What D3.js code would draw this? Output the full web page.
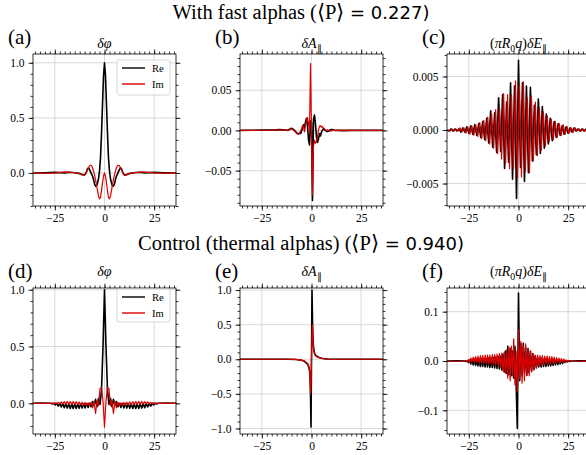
<!DOCTYPE html>
<html>
<head>
<meta charset="utf-8">
<script src="https://cdn.jsdelivr.net/npm/d3@7"></script>
<style>
  body { margin: 0; background: #fff; }
  svg { display: block; }
</style>
</head>
<body>
<div id="container"></div>
<script>
/* CONSTANTS AND GLOBALS */
const width = 586,
  height = 455,
  panelWidth = 143,
  colLeft = [33, 240, 447],
  rowTop = [54, 288],
  rowHeight = [152, 146],
  titleBase = [48, 276],
  xDomain = [-36, 36],
  xTicks = [-25, 0, 25],
  xMinorStep = 2.5,
  serif = '"Liberation Serif", cursive',
  sans = '"DejaVu Sans", cursive',
  reColor = '#000000',
  imColor = '#dd0000',
  gridColor = '#d4d4d4'

/* DATA */
// (a) delta phi, fast alphas
const phiFastX = [-36, -30, -25, -22, -20, -18, -16, -14, -13]
  .concat(d3.range(0, 49).map(k => -12 + 0.5 * k))
  .concat([13, 14, 16, 18, 20, 22, 25, 30, 36])
const phiFastRe = [
  0, 0.002, 0.005, 0.003, 0.0, 0.006, 0.004, 0.0, -0.004,
  -0.008, -0.012, -0.015, -0.02, -0.015, -0.005, 0.015,
  0.04, 0.045, 0.03, 0.01, -0.01, -0.03, -0.06,
  -0.1, -0.12, -0.115, -0.09, -0.05, 0.02, 0.14,
  0.36, 0.62, 0.88, 1.0, 0.88, 0.62, 0.36,
  0.14, 0.02, -0.05, -0.09, -0.115, -0.12, -0.1,
  -0.06, -0.03, -0.01, 0.01, 0.03, 0.045, 0.04,
  0.015, -0.005, -0.015, -0.02, -0.015, -0.012, -0.008,
  -0.004, 0.0, 0.004, 0.006, 0.0, 0.003, 0.005, 0.002, 0
]
const phiFastIm = [
  0, -0.003, 0.0, 0.005, 0.01, 0.008, 0.004, 0.0, -0.005,
  -0.01, -0.015, -0.02, -0.022, -0.02, -0.01, 0.01,
  0.03, 0.05, 0.065, 0.07, 0.065, 0.045, 0.015,
  -0.02, -0.06, -0.11, -0.16, -0.21, -0.235, -0.22,
  -0.16, -0.09, -0.03, 0.0, -0.03, -0.09, -0.16,
  -0.22, -0.235, -0.21, -0.16, -0.11, -0.06, -0.02,
  0.015, 0.045, 0.065, 0.07, 0.065, 0.05, 0.03,
  0.01, -0.01, -0.02, -0.022, -0.02, -0.015, -0.01,
  -0.005, 0.0, 0.004, 0.008, 0.01, 0.005, 0.0, -0.003, 0
]

// (b) delta A_par, fast alphas
const aparFastX = [-36, -30, -25, -20, -16, -13]
  .concat(d3.range(0, 49).map(k => -12 + 0.5 * k))
  .concat([13, 16, 20, 25, 30, 36])
const aparFastRe = [
  0, 0.0002, 0.0003, 0.0005, 0.001, 0.0005,
  0.0, 0.0008, 0.0015, 0.0022, 0.0025, 0.002, 0.001,
  0.0, -0.0015, -0.003, -0.004, -0.0045, -0.003, -0.004,
  -0.001, 0.003, 0.007, 0.003, 0.011, 0.015, 0.006,
  -0.012, -0.018, 0.012, 0.01, -0.087, 0.014, 0.019,
  0.008, -0.008, -0.015, -0.011, -0.004, -0.007, -0.002,
  0.0, 0.002, 0.001, 0.0, -0.001, -0.0015, -0.001,
  0.0, 0.0008, 0.0012, 0.001, 0.0005, 0.0002, 0.0,
  0.0, -0.0003, 0.0, 0.0002, 0.0, 0
]
const aparFastIm = [
  0, 0.0, 0.0002, 0.0005, 0.0008, 0.0004,
  0.0, 0.0005, 0.001, 0.0015, 0.0018, 0.0012, 0.0,
  -0.001, -0.0025, -0.004, -0.0045, -0.004, -0.003, -0.001,
  0.002, 0.006, 0.004, -0.002, 0.006, 0.013, 0.016,
  0.009, 0.0, 0.083, 0.0, -0.08, -0.02, -0.012,
  -0.016, -0.014, -0.008, 0.0, 0.005, 0.006, 0.004,
  0.005, 0.003, 0.002, 0.001, 0.0, 0.0008, 0.0,
  -0.0005, -0.001, -0.0008, 0.0, 0.0003, 0.0, 0.0,
  0.0, 0.0003, 0.0, 0.0001, 0.0, 0
]

// (c) (pi R0 q) delta E_par, fast alphas
const eparFastXRe = d3.range(-36, 37, 1)
const eparFastXIm = d3.range(0, 72).map(k => -35.5 + k)
const eparFastRe = [
  0.0000, -0.0001, 0.0001, -0.0001, 0.0001, -0.0001, 0.0001, -0.0002, 0.0002, -0.0002,
  0.0003, -0.0003, 0.0004, -0.0004, 0.0005, -0.0005, 0.0006, -0.0007, 0.0008, -0.0009,
  0.0011, -0.0012, 0.0018, -0.0016, 0.0016, -0.0021, 0.0030, -0.0020, 0.0033, -0.0036,
  0.0026, -0.0030, 0.0044, -0.0046, 0.0041, -0.0064, 0.0065, -0.0035, 0.0044, -0.0048,
  0.0041, -0.0040, 0.0040, -0.0029, 0.0023, -0.0023, 0.0029, -0.0022, 0.0022, -0.0017,
  0.0015, -0.0013, 0.0011, -0.0010, 0.0008, -0.0007, 0.0006, -0.0005, 0.0004, -0.0004,
  0.0003, -0.0003, 0.0002, -0.0002, 0.0002, -0.0001, 0.0001, -0.0001, 0.0001, -0.0001,
  0.0001, -0.0001, 0.0000
]
const eparFastIm = [
  0.0000, -0.0001, 0.0001, -0.0001, 0.0001, -0.0001, 0.0002, -0.0002, 0.0002, -0.0003,
  0.0003, -0.0004, 0.0004, -0.0005, 0.0005, -0.0006, 0.0007, -0.0008, 0.0009, -0.0010,
  0.0012, -0.0013, 0.0015, -0.0017, 0.0019, -0.0022, 0.0020, -0.0027, 0.0034, -0.0031,
  0.0033, -0.0036, 0.0033, -0.0036, 0.0046, -0.0045, 0.0042, -0.0044, 0.0045, -0.0039,
  0.0030, -0.0040, 0.0032, -0.0029, 0.0026, -0.0024, 0.0021, -0.0019, 0.0017, -0.0015,
  0.0013, -0.0011, 0.0010, -0.0009, 0.0008, -0.0007, 0.0006, -0.0005, 0.0005, -0.0004,
  0.0003, -0.0003, 0.0002, -0.0002, 0.0002, -0.0001, 0.0001, -0.0001, 0.0001, -0.0001,
  0.0001, 0.0000
]

// (d) delta phi, thermal alphas
const phiCtrlX = [-36, -31.5]
  .concat(d3.range(0, 73).map(k => -27 + 0.75 * k))
  .concat([31.5, 36])
const phiCtrlRe = [
  0, 0.002,
  0.0, -0.006, 0.0, -0.015, 0.0, -0.024, -0.002, -0.032, -0.003, -0.038,
  -0.005, -0.042, -0.006, -0.045, -0.006, -0.046, -0.006, -0.045, -0.005, -0.044,
  -0.004, -0.042, -0.003, -0.04, -0.002, -0.036, 0.0, -0.03, 0.015, -0.02,
  0.035, -0.03, 0.045, -0.01, 0.12, 0.5,
  1.0,
  0.5, 0.12, -0.01, 0.045, -0.03, 0.035,
  -0.02, 0.015, -0.03, 0.0, -0.036, -0.002, -0.04, -0.003, -0.042, -0.004,
  -0.044, -0.005, -0.045, -0.006, -0.046, -0.006, -0.045, -0.006, -0.042, -0.005,
  -0.038, -0.003, -0.032, -0.002, -0.024, 0.0, -0.015, 0.0, -0.006, 0.0,
  0.002, 0
]
const phiCtrlIm = [
  0, -0.001,
  0.0, 0.002, -0.002, 0.004, -0.003, 0.008, -0.004, 0.012, -0.004, 0.015,
  -0.005, 0.016, -0.005, 0.016, -0.006, 0.015, -0.008, 0.014, -0.01, 0.012,
  -0.012, 0.01, -0.015, 0.008, -0.018, 0.005, -0.02, 0.01, -0.04, 0.02,
  -0.09, 0.02, -0.02, 0.13, 0.14, 0.02,
  -0.21,
  0.02, 0.14, 0.13, -0.02, 0.02, -0.09,
  0.02, -0.04, 0.01, -0.02, 0.005, -0.018, 0.008, -0.015, 0.01, -0.012,
  0.012, -0.01, 0.014, -0.008, 0.015, -0.006, 0.016, -0.005, 0.016, -0.005,
  0.015, -0.004, 0.012, -0.004, 0.008, -0.003, 0.004, -0.002, 0.002, 0.0,
  -0.001, 0
]

// (e) delta A_par, thermal alphas
const aparCtrlX = [-36, -20, -12, -8, -6, -5, -4, -3.5, -3, -2.5, -2, -1.5, -1, -0.75, -0.5, -0.25,
  0, 0.25, 0.5, 0.75, 1, 1.5, 2, 2.5, 3, 3.5, 4, 5, 6, 8, 12, 20, 36]
const aparCtrlRe = [0, 0, 0, -0.003, -0.01, -0.015, -0.025, -0.03, -0.045, -0.055, -0.07, -0.1, -0.16, -0.25, -0.5, -0.98,
  0.0, 1.0, 0.55, 0.3, 0.18, 0.09, 0.06, 0.05, 0.04, 0.03, 0.025, 0.015, 0.01, 0.004, 0, 0, 0]
const aparCtrlIm = [0, 0, 0, -0.002, -0.008, -0.012, -0.02, -0.025, -0.035, -0.045, -0.06, -0.09, -0.14, -0.25, -0.5, -0.35,
  0.0, 0.35, 0.5, 0.25, 0.14, 0.08, 0.05, 0.04, 0.03, 0.025, 0.02, 0.012, 0.008, 0.003, 0, 0, 0]

// (f) (pi R0 q) delta E_par, thermal alphas
const eparCtrlX = [-36, -31]
  .concat(d3.range(0, 91).map(k => -27 + 0.6 * k))
  .concat([31, 36])
const eparCtrlRe = [
  0, 0.0005,
  0.0, -0.001, 0.001, -0.003, 0.002, -0.006, 0.003, -0.008, 0.004, -0.009,
  0.004, -0.01, 0.004, -0.011, 0.005, -0.011, 0.005, -0.012, 0.005, -0.012,
  0.006, -0.013, 0.006, -0.013, 0.007, -0.014, 0.008, -0.015, 0.009, -0.016,
  0.01, -0.018, 0.014, -0.022, 0.02, -0.025, 0.03, -0.028, 0.025, -0.03,
  0.02, -0.035, 0.03, -0.045, -0.137,
  0.138,
  -0.04, 0.035, -0.03, 0.036, -0.025, 0.028, -0.029, 0.025, -0.024, 0.02,
  -0.02, 0.015, -0.017, 0.01, -0.014, 0.008, -0.012, 0.007, -0.012, 0.006,
  -0.011, 0.006, -0.011, 0.005, -0.01, 0.005, -0.01, 0.004, -0.009, 0.004,
  -0.008, 0.003, -0.007, 0.003, -0.006, 0.002, -0.005, 0.002, -0.003, 0.001,
  -0.002, 0.001, -0.001, 0.0, 0.0,
  0.0005, 0
]
const eparCtrlIm = [
  0, -0.0005,
  0.0, 0.001, -0.001, 0.003, -0.002, 0.006, -0.002, 0.008, -0.003, 0.009,
  -0.003, 0.01, -0.004, 0.011, -0.004, 0.011, -0.005, 0.012, -0.005, 0.012,
  -0.006, 0.012, -0.006, 0.013, -0.007, 0.013, -0.008, 0.014, -0.01, 0.015,
  -0.012, 0.016, -0.02, 0.018, -0.025, 0.022, -0.035, 0.028, -0.04, 0.03,
  -0.03, 0.045, -0.048, 0.02, -0.063,
  0.063,
  -0.035, 0.04, -0.045, 0.03, -0.04, 0.035, -0.03, 0.025, -0.03, 0.02,
  -0.022, 0.015, -0.018, 0.012, -0.013, 0.012, -0.01, 0.011, -0.008, 0.011,
  -0.007, 0.01, -0.006, 0.01, -0.006, 0.009, -0.005, 0.009, -0.005, 0.008,
  -0.004, 0.007, -0.004, 0.006, -0.003, 0.005, -0.002, 0.004, -0.002, 0.002,
  -0.001, 0.001, 0.0, 0.0, 0.0,
  -0.0005, 0
]

/* TITLES */
const titlePhi = [{ t: 'δφ', it: true }]
const titleApar = [{ t: 'δA', it: true }, { t: '∥', sub: true }]
const titleEpar = [{ t: '(' }, { t: 'πR', it: true }, { t: '0', sub: true }, { t: 'q', it: true },
  { t: ')' }, { t: 'δE', it: true }, { t: '∥', sub: true }]

const panels = [
  { label: '(a)', col: 0, row: 0, title: titlePhi, yDomain: [-0.30, 1.08], yTicks: [0, 0.5, 1], yMinor: 0.1, yFormat: '.1f',
    xRe: phiFastX, xIm: phiFastX, re: phiFastRe, im: phiFastIm, legend: { dy: 6, h: 35 } },
  { label: '(b)', col: 1, row: 0, title: titleApar, yDomain: [-0.094, 0.095], yTicks: [-0.05, 0, 0.05], yMinor: 0.01, yFormat: '.2f',
    xRe: aparFastX, xIm: aparFastX, re: aparFastRe, im: aparFastIm },
  { label: '(c)', col: 2, row: 0, title: titleEpar, yDomain: [-0.0071, 0.0071], yTicks: [-0.005, 0, 0.005], yMinor: 0.001, yFormat: '.3f',
    xRe: eparFastXRe, xIm: eparFastXIm, re: eparFastRe, im: eparFastIm },
  { label: '(d)', col: 0, row: 1, title: titlePhi, yDomain: [-0.27, 1.015], yTicks: [0, 0.5, 1], yMinor: 0.1, yFormat: '.1f',
    xRe: phiCtrlX, xIm: phiCtrlX, re: phiCtrlRe, im: phiCtrlIm, legend: { dy: 1, h: 33 } },
  { label: '(e)', col: 1, row: 1, title: titleApar, yDomain: [-1.08, 1.03], yTicks: [-1, -0.5, 0, 0.5, 1], yMinor: 0.1, yFormat: '.1f',
    xRe: aparCtrlX, xIm: aparCtrlX, re: aparCtrlRe, im: aparCtrlIm },
  { label: '(f)', col: 2, row: 1, title: titleEpar, yDomain: [-0.148, 0.148], yTicks: [-0.1, 0, 0.1], yMinor: 0.02, yFormat: '.1f',
    xRe: eparCtrlX, xIm: eparCtrlX, re: eparCtrlRe, im: eparCtrlIm }
]

/* CREATE SVG ELEMENT */
const svg = d3.select('#container')
  .append('svg')
  .attr('width', width)
  .attr('height', height)

svg.append('rect').attr('width', width).attr('height', height).attr('fill', '#fff')

// row titles
function rowTitle(y, lead, value) {
  const t = svg.append('text')
    .attr('x', 301)
    .attr('y', y)
    .attr('text-anchor', 'middle')
    .style('font-family', serif)
    .style('font-size', '20.5px')
  t.append('tspan').text(lead)
  t.append('tspan').style('font-family', sans).style('font-size', '18px').text(value)
}
rowTitle(19, 'With fast alphas (⟨P⟩', ' = 0.227)')
rowTitle(250, 'Control (thermal alphas) (⟨P⟩', ' = 0.940)')

function mathText(sel, parts, size) {
  let shifted = false
  parts.forEach(p => {
    const t = sel.append('tspan').text(p.t)
    if (p.it) t.style('font-style', 'italic')
    if (p.sub) {
      t.style('font-size', (size * 0.7) + 'px')
      if (!shifted) t.attr('dy', size * 0.28)
      shifted = true
    } else if (shifted) {
      t.attr('dy', -size * 0.28)
      shifted = false
    }
  })
}

function minorValues(domain, step) {
  const k0 = Math.ceil(domain[0] / step - 1e-9),
    k1 = Math.floor(domain[1] / step + 1e-9)
  return d3.range(k0, k1 + 1).map(k => +(k * step).toFixed(6))
}

panels.forEach((p, i) => {
  const left = colLeft[p.col],
    top = rowTop[p.row],
    h = rowHeight[p.row],
    w = panelWidth

  const xScale = d3.scaleLinear().domain(xDomain).range([0, w])
  const yScale = d3.scaleLinear().domain(p.yDomain).range([h, 0])

  const g = svg.append('g').attr('transform', `translate(${left}, ${top})`)

  // + GRID
  g.append('g').selectAll('line')
    .data(xTicks)
    .join('line')
    .attr('x1', d => xScale(d)).attr('x2', d => xScale(d))
    .attr('y1', 0).attr('y2', h)
    .attr('stroke', gridColor).attr('stroke-width', 0.9)
  g.append('g').selectAll('line')
    .data(p.yTicks)
    .join('line')
    .attr('x1', 0).attr('x2', w)
    .attr('y1', d => yScale(d)).attr('y2', d => yScale(d))
    .attr('stroke', gridColor).attr('stroke-width', 0.9)

  // + CURVES
  g.append('clipPath').attr('id', 'clip' + i)
    .append('rect').attr('width', w).attr('height', h)

  const line = d3.line().x(d => xScale(d[0])).y(d => yScale(d[1]))
  const curves = g.append('g').attr('clip-path', `url(#clip${i})`)
  curves.append('path')
    .attr('d', line(d3.zip(p.xRe, p.re)))
    .attr('fill', 'none').attr('stroke', reColor).attr('stroke-width', 1.6)
    .attr('stroke-linejoin', 'round')
  curves.append('path')
    .attr('d', line(d3.zip(p.xIm, p.im)))
    .attr('fill', 'none').attr('stroke', imColor).attr('stroke-width', 1.2)
    .attr('stroke-linejoin', 'round')

  // + AXES
  const xMinor = minorValues(xDomain, xMinorStep)
  const yMinor = minorValues(p.yDomain, p.yMinor)
  const axes = [
    d3.axisBottom(xScale).tickValues(xTicks).tickSize(4.5).tickPadding(3).tickFormat(d3.format('d')),
    d3.axisBottom(xScale).tickValues(xMinor).tickSize(2.5).tickFormat(''),
    d3.axisTop(xScale).tickValues(xTicks).tickSize(4.5).tickFormat(''),
    d3.axisTop(xScale).tickValues(xMinor).tickSize(2.5).tickFormat(''),
    d3.axisLeft(yScale).tickValues(p.yTicks).tickSize(4.5).tickPadding(4).tickFormat(d3.format(p.yFormat)),
    d3.axisLeft(yScale).tickValues(yMinor).tickSize(2.5).tickFormat(''),
    d3.axisRight(yScale).tickValues(p.yTicks).tickSize(4.5).tickFormat(''),
    d3.axisRight(yScale).tickValues(yMinor).tickSize(2.5).tickFormat('')
  ]
  axes.forEach((ax, j) => {
    const pos = j < 2 ? `translate(0, ${h})` : (j >= 6 ? `translate(${w}, 0)` : null)
    g.append('g')
      .attr('transform', pos)
      .call(ax.tickSizeOuter(0))
      .call(a => a.select('.domain').remove())
      .call(a => a.selectAll('.tick line').attr('stroke', '#000').attr('stroke-width', 0.8))
      .call(a => a.selectAll('.tick text').style('font-family', serif).style('font-size', '11.5px'))
  })

  // frame
  g.append('rect')
    .attr('width', w).attr('height', h)
    .attr('fill', 'none').attr('stroke', '#000').attr('stroke-width', 0.8)

  // + TITLE AND PANEL LABEL
  const title = g.append('text')
    .attr('x', w / 2)
    .attr('y', titleBase[p.row] - top)
    .attr('text-anchor', 'middle')
    .style('font-family', serif)
    .style('font-size', '14px')
  mathText(title, p.title, 14)

  g.append('text')
    .attr('x', -25)
    .attr('y', -10)
    .style('font-family', serif)
    .style('font-size', '21px')
    .text(p.label)

  // + LEGEND
  if (p.legend) {
    const lg = g.append('g').attr('transform', `translate(84, ${p.legend.dy})`)
    lg.append('rect')
      .attr('width', 53).attr('height', p.legend.h)
      .attr('rx', 2)
      .attr('fill', '#fff').attr('fill-opacity', 0.8)
      .attr('stroke', '#cccccc').attr('stroke-width', 0.8)
    const items = [{ color: reColor, text: 'Re' }, { color: imColor, text: 'Im' }]
    lg.selectAll('line')
      .data(items)
      .join('line')
      .attr('x1', 5).attr('x2', 28)
      .attr('y1', (d, k) => 8 + k * 16).attr('y2', (d, k) => 8 + k * 16)
      .attr('stroke', d => d.color).attr('stroke-width', 1.4)
    lg.selectAll('text')
      .data(items)
      .join('text')
      .attr('x', 35)
      .attr('y', (d, k) => 8 + k * 16)
      .attr('dy', '0.35em')
      .style('font-family', serif)
      .style('font-size', '10.5px')
      .text(d => d.text)
  }
})
</script>
</body>
</html>
